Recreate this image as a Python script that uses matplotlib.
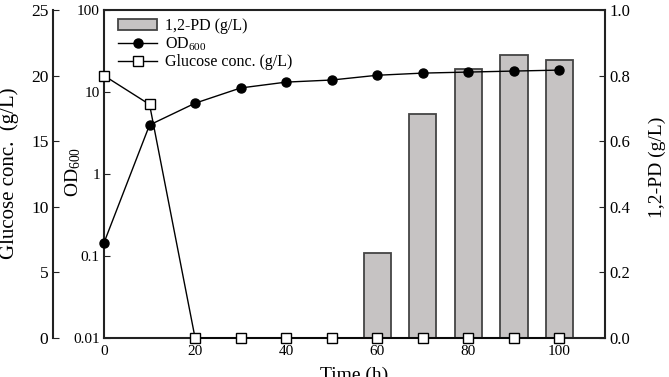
import matplotlib
matplotlib.use('Agg')
import matplotlib.pyplot as plt
from matplotlib.ticker import NullLocator

plt.rcParams['font.family'] = ['Liberation Serif', 'DejaVu Serif']
plt.rcParams['mathtext.fontset'] = 'custom'
plt.rcParams['mathtext.rm'] = 'Liberation Serif'
plt.rcParams['mathtext.it'] = 'Liberation Serif:italic'

# ---- data ----
time = [0, 10, 20, 30, 40, 50, 60, 70, 80, 90, 100]
od600 = [0.145, 3.96, 7.3, 11.2, 13.2, 14.0, 16.0, 17.0, 17.5, 18.0, 18.5]
glucose = [20.0, 17.8, 0, 0, 0, 0, 0, 0, 0, 0, 0]
pd_time = [60, 70, 80, 90, 100]
pd_conc = [0.26, 0.683, 0.82, 0.863, 0.848]

x_ticks = [0, 20, 40, 60, 80, 100]
od_ticks = [0.01, 0.1, 1, 10, 100]
od_tick_labels = ['0.01', '0.1', '1', '10', '100']
glu_ticks = [0, 5, 10, 15, 20, 25]
pd_ticks = [0.0, 0.2, 0.4, 0.6, 0.8, 1.0]

W, H = 669, 377
fig = plt.figure(figsize=(W / 100, H / 100), dpi=100)
left, right, top, bottom = 104, 605, 10, 338
ax_pd = fig.add_axes([left / W, 1 - bottom / H, (right - left) / W, (bottom - top) / H])

spine_c = '#222222'
sw = 1.5

# bars: 1,2-PD on right axis
bars = ax_pd.bar(pd_time, pd_conc, width=6, color='#c6c3c3', edgecolor='#444444',
                 linewidth=1.3, zorder=1, label='1,2-PD (g/L)')
ax_pd.set_xlim(0, 110)
ax_pd.set_ylim(0, 1.0)
ax_pd.set_xticks(x_ticks)
for s in ax_pd.spines.values():
    s.set_linewidth(sw)
    s.set_color(spine_c)

# OD600 on inner left log axis
ax_od = ax_pd.twinx()
# Glucose on outer left axis
ax_g = ax_pd.twinx()

# right axis for 1,2-PD (set after twinx, which moves ticks)
ax_pd.yaxis.tick_right()
ax_pd.set_yticks(pd_ticks)
ax_pd.set_yticklabels([f'{v:.1f}' for v in pd_ticks])
ax_pd.tick_params(axis='y', direction='in', length=4, labelsize=12, pad=3, color=spine_c)
ax_pd.tick_params(axis='x', direction='in', length=0, labelsize=11, pad=5)

ax_od.yaxis.tick_left()
ax_od.set_yscale('log')
ax_od.set_ylim(0.01, 100)
ax_od.set_yticks(od_ticks)
ax_od.set_yticklabels(od_tick_labels)
ax_od.yaxis.set_minor_locator(NullLocator())
ax_od.tick_params(axis='y', direction='in', length=4, labelsize=11, pad=3, color=spine_c)
for s in ax_od.spines.values():
    s.set_visible(False)
l_od, = ax_od.plot(time, od600, '-o', color='black', lw=1.0, ms=6.5, clip_on=False,
                   zorder=3, label='OD$_{600}$')

ax_g.spines['left'].set_position(('outward', 37))
ax_g.spines['left'].set_visible(True)
ax_g.spines['left'].set_linewidth(sw)
ax_g.spines['left'].set_color(spine_c)
for k in ['right', 'top', 'bottom']:
    ax_g.spines[k].set_visible(False)
ax_g.yaxis.tick_left()
ax_g.set_ylim(0, 25)
ax_g.set_yticks(glu_ticks)
ax_g.tick_params(axis='y', direction='in', length=4, labelsize=12.5, pad=3, color=spine_c)
l_g, = ax_g.plot(time, glucose, '-s', color='black', mfc='white', mec='black', mew=1.0,
                 lw=1.0, ms=6.5, clip_on=False, zorder=4, label='Glucose conc. (g/L)')

# legend
ax_g.legend([bars, l_od, l_g], ['1,2-PD (g/L)', 'OD$_{600}$', 'Glucose conc. (g/L)'],
            loc='upper left', bbox_to_anchor=(0.0, 1.02), frameon=False, fontsize=11.5,
            handlelength=2.4, handletextpad=0.5, labelspacing=0.1, borderaxespad=0.5)

# axis labels
fig.text(9 / W, 1 - 173 / H, 'Glucose conc.  (g/L)', rotation=90, ha='center', va='center',
         fontsize=15)
fig.text(73 / W, 1 - 172 / H, 'OD$_{600}$', rotation=90, ha='center', va='center', fontsize=14)
fig.text(657 / W, 1 - 167 / H, '1,2-PD (g/L)', rotation=90, ha='center', va='center', fontsize=14)
fig.text(354 / W, 1 - 375 / H, 'Time (h)', ha='center', va='center', fontsize=14)

fig.savefig('out.png', dpi=100)
